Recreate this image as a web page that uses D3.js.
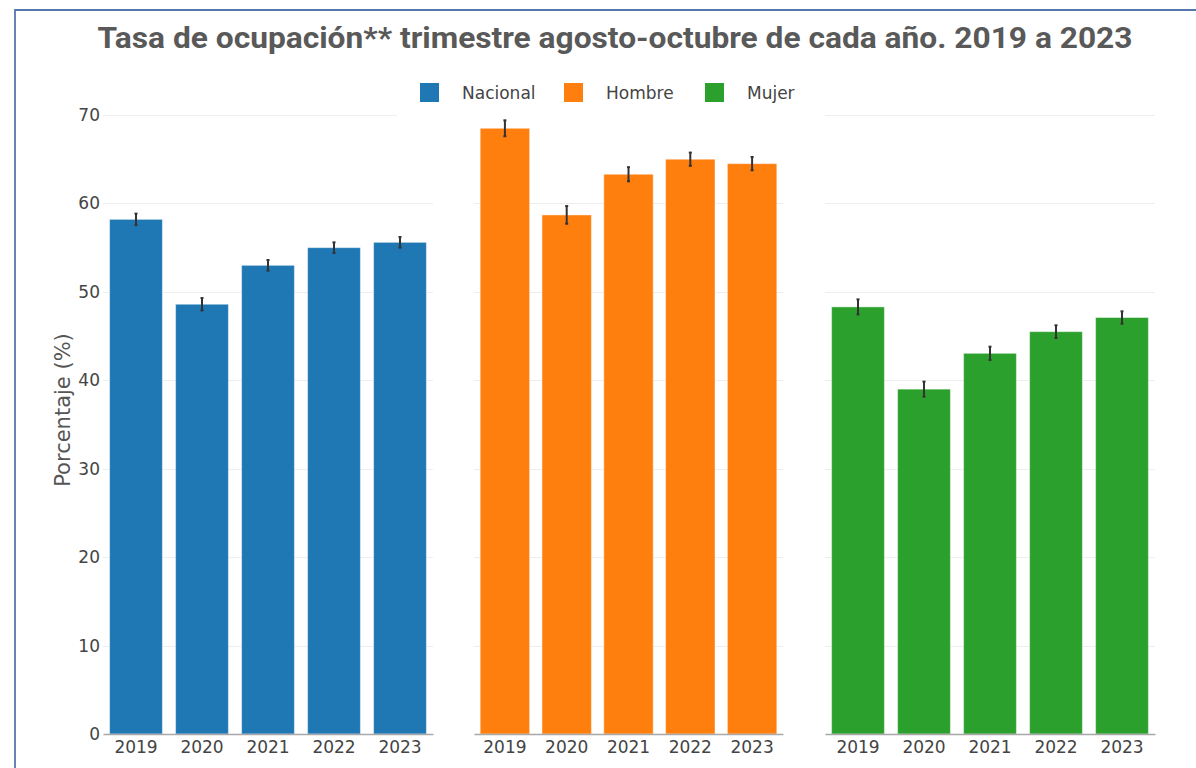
<!DOCTYPE html>
<html>
<head>
<meta charset="utf-8">
<script src="https://cdn.jsdelivr.net/npm/d3@7"></script>
<style>
  body { margin: 0; background: #fff; }
  svg { display: block; }
</style>
</head>
<body>
<div id="chart-area"></div>
<script>
// data
var years = ["2019", "2020", "2021", "2022", "2023"];
var seriesNames = ["Nacional", "Hombre", "Mujer"];
var nacional = [58.2, 48.6, 53.0, 55.0, 55.6];
var nacionalErr = [0.65, 0.7, 0.6, 0.6, 0.6];
var hombre = [68.5, 58.7, 63.3, 65.0, 64.5];
var hombreErr = [0.9, 1.0, 0.8, 0.75, 0.75];
var mujer = [48.3, 39.0, 43.05, 45.5, 47.1];
var mujerErr = [0.85, 0.85, 0.75, 0.72, 0.7];
var yTicks = [0, 10, 20, 30, 40, 50, 60, 70];
var titleText = "Tasa de ocupación** trimestre agosto-octubre de cada año. 2019 a 2023";
var yTitle = "Porcentaje (%)";

var colors = ["#1f77b4", "#ff7f0e", "#2ca02c"];
var width = 1196, height = 768;

// panel horizontal extents (subplots)
var panelX = [[103, 433], [474, 783], [825, 1155]];

var panels = [
	{name: seriesNames[0], values: nacional, errs: nacionalErr},
	{name: seriesNames[1], values: hombre, errs: hombreErr},
	{name: seriesNames[2], values: mujer, errs: mujerErr}
];

var svg = d3.select("#chart-area")
	.append("svg")
		.attr("width", width)
		.attr("height", height);

// frame
svg.append("path")
	.attr("d", "M15," + height + "V10H" + width)
	.attr("fill", "none")
	.attr("stroke", "#5577ad")
	.attr("stroke-width", 1.8);

//y scale shared by all panels
var yScale = d3.scaleLinear()
	.domain([0, 70])
	.range([734, 115]);

// gridlines
panels.forEach(function(p, i){
	var g = svg.append("g")
		.attr("transform", "translate(" + panelX[i][0] + ",0)");
	g.selectAll("line.grid")
		.data(yTicks.filter(function(d){ return d > 0; }))
		.enter().append("line")
			.attr("class", "grid")
			.attr("x1", 0)
			.attr("x2", panelX[i][1] - panelX[i][0])
			.attr("y1", function(d){ return Math.round(yScale(d)) + 0.5; })
			.attr("y2", function(d){ return Math.round(yScale(d)) + 0.5; })
			.attr("stroke", "#eeeeee")
			.attr("stroke-width", 1);
});

// y axis labels
var yAxisCall = d3.axisLeft(yScale)
	.tickValues(yTicks)
	.tickSize(0)
	.tickPadding(3);
var yAxis = svg.append("g")
	.attr("transform", "translate(" + panelX[0][0] + ",0)")
	.call(yAxisCall);
yAxis.select(".domain").remove();
yAxis.selectAll("text")
	.attr("font-family", "DejaVu Sans, Verdana, sans-serif")
	.attr("font-size", "17px")
	.attr("fill", "#444");

// bars, error bars and x axes
panels.forEach(function(p, i){
	var xScale = d3.scaleBand()
		.domain(years)
		.range(panelX[i])
		.paddingInner(0.2)
		.paddingOuter(0.1);

	var rows = years.map(function(y, j){
		return {year: y, value: p.values[j], err: p.errs[j]};
	});

	var g = svg.append("g");

	g.selectAll("rect.bar")
		.data(rows)
		.enter().append("rect")
			.attr("class", "bar")
			.attr("x", function(d){ return xScale(d.year); })
			.attr("width", xScale.bandwidth())
			.attr("y", function(d){ return yScale(d.value); })
			.attr("height", function(d){ return yScale(0) - yScale(d.value); })
			.attr("fill", colors[i])
			.attr("stroke", "rgba(255,255,255,0.45)")
			.attr("stroke-width", 1);

	//error bars
	var eb = g.selectAll("g.err")
		.data(rows)
		.enter().append("g")
			.attr("class", "err")
			.attr("stroke", "#333")
			.attr("stroke-width", 2);
	var cx = function(d){ return xScale(d.year) + xScale.bandwidth() / 2; };
	eb.append("line")
		.attr("x1", cx).attr("x2", cx)
		.attr("y1", function(d){ return yScale(d.value + d.err); })
		.attr("y2", function(d){ return yScale(d.value - d.err); });
	eb.append("line")
		.attr("x1", function(d){ return cx(d) - 1.5; })
		.attr("x2", function(d){ return cx(d) + 1.5; })
		.attr("y1", function(d){ return yScale(d.value + d.err); })
		.attr("y2", function(d){ return yScale(d.value + d.err); });
	eb.append("line")
		.attr("x1", function(d){ return cx(d) - 1.5; })
		.attr("x2", function(d){ return cx(d) + 1.5; })
		.attr("y1", function(d){ return yScale(d.value - d.err); })
		.attr("y2", function(d){ return yScale(d.value - d.err); });

	var xAxisCall = d3.axisBottom(xScale)
		.tickSize(0)
		.tickPadding(7);
	var xAxis = svg.append("g")
		.attr("transform", "translate(0," + yScale(0) + ")")
		.call(xAxisCall);
	xAxis.select(".domain")
		.attr("stroke", "#a8a8a8")
		.attr("stroke-width", 1.5);
	xAxis.selectAll("text")
		.attr("font-family", "DejaVu Sans, Verdana, sans-serif")
		.attr("font-size", "17px")
		.attr("fill", "#444");
});

// legend (white background hides the top gridline behind it)
var legend = svg.append("g");
legend.append("rect")
	.attr("x", 397).attr("y", 72)
	.attr("width", 428).attr("height", 46)
	.attr("fill", "#fff");

var legendX = [420, 564, 705];
seriesNames.forEach(function(name, i){
	var row = legend.append("g")
		.attr("transform", "translate(" + legendX[i] + ",83)");
	row.append("rect")
		.attr("width", 19)
		.attr("height", 19)
		.attr("fill", colors[i]);
	row.append("text")
		.attr("x", 42)
		.attr("y", 16)
		.attr("font-family", "DejaVu Sans, Verdana, sans-serif")
		.attr("font-size", "17px")
		.attr("fill", "#444")
		.text(name);
});

// title
svg.append("text")
	.attr("x", 615)
	.attr("y", 48)
	.attr("text-anchor", "middle")
	.attr("font-family", "Roboto, Open Sans, sans-serif")
	.attr("font-weight", "bold")
	.attr("font-size", "30px")
	.attr("fill", "#595959")
	.attr("textLength", 1035)
	.attr("lengthAdjust", "spacingAndGlyphs")
	.text(titleText);

// y axis title
svg.append("text")
	.attr("transform", "translate(70,410) rotate(-90)")
	.attr("text-anchor", "middle")
	.attr("font-family", "DejaVu Sans, Verdana, sans-serif")
	.attr("font-size", "21px")
	.attr("fill", "#555")
	.text(yTitle);
</script>
</body>
</html>
